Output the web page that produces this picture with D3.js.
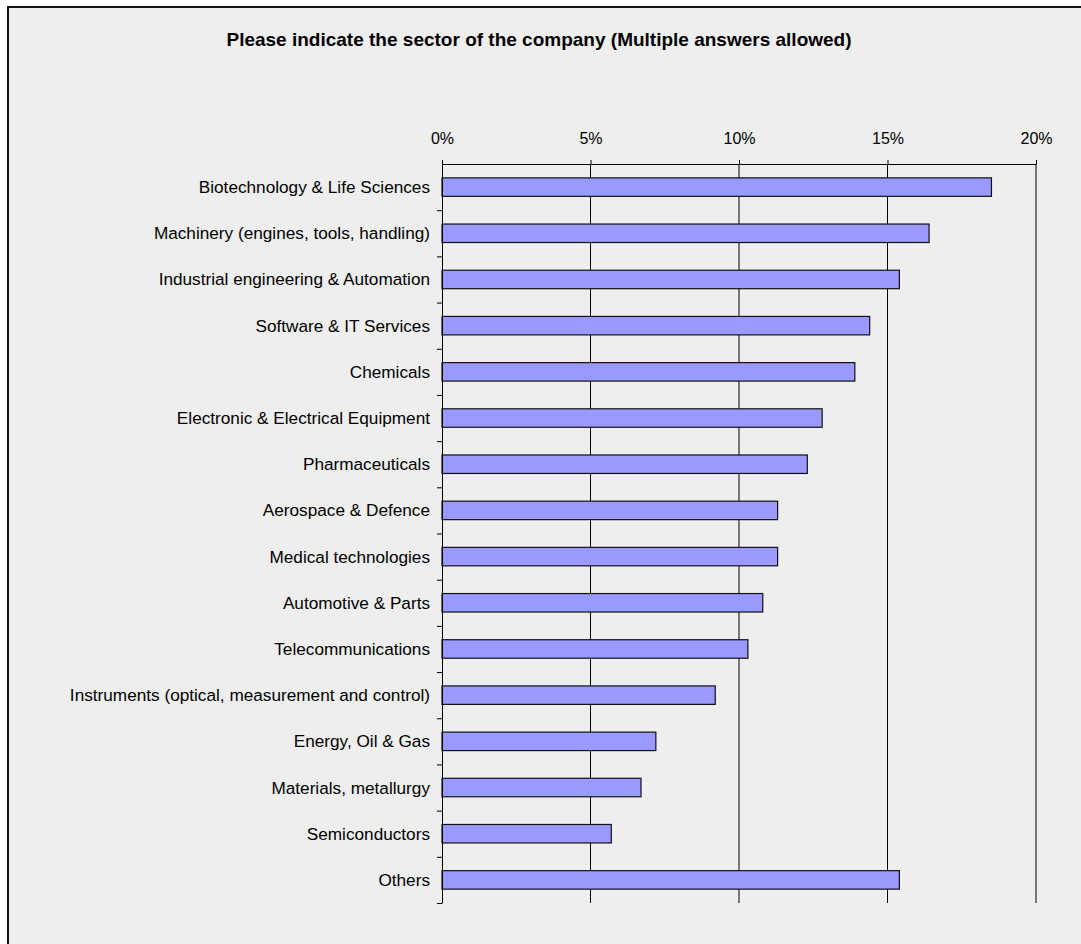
<!DOCTYPE html>
<html>
<head>
<meta charset="utf-8">
<script src="https://cdn.jsdelivr.net/npm/d3@7"></script>
<style>
  body { margin: 0; background: #fff; }
  text { font-family: "Liberation Sans", Arial, sans-serif; fill: #000; }
  .title { font-weight: bold; font-size: 19px; }
  .axis text { font-size: 16px; }
  .axis .cat-label { font-size: 17.2px; }
  .axis path, .axis line { stroke: #000; }
</style>
</head>
<body>
<svg id="chart"></svg>
<script>
// sectors, top to bottom as drawn
const sectors = [
  'Biotechnology & Life Sciences',
  'Machinery (engines, tools, handling)',
  'Industrial engineering & Automation',
  'Software & IT Services',
  'Chemicals',
  'Electronic & Electrical Equipment',
  'Pharmaceuticals',
  'Aerospace & Defence',
  'Medical technologies',
  'Automotive & Parts',
  'Telecommunications',
  'Instruments (optical, measurement and control)',
  'Energy, Oil & Gas',
  'Materials, metallurgy',
  'Semiconductors',
  'Others'
];

// share of answers (fraction)
const shares = [0.185, 0.164, 0.154, 0.144, 0.139, 0.128, 0.123, 0.113,
                0.113, 0.108, 0.103, 0.092, 0.072, 0.067, 0.057, 0.154];

const xTicks = [0, 0.05, 0.10, 0.15, 0.20];

const data = sectors.map((s, i) => ({ sector: s, value: shares[i] }));

const W = 1081, H = 944;
const margin = {top: 164, left: 442};
const width = 594, height = 739;

const svg = d3.select('#chart')
    .attr('width', W)
    .attr('height', H);

// grey panel with dark frame (runs off the right and bottom edge)
svg.append('rect')
    .attr('x', 8)
    .attr('y', 7)
    .attr('width', W + 10)
    .attr('height', H + 10)
    .attr('fill', '#eeeeee')
    .attr('stroke', '#111')
    .attr('stroke-width', 2);

svg.append('text')
    .attr('class', 'title')
    .attr('x', 539)
    .attr('y', 46)
    .attr('text-anchor', 'middle')
    .text('Please indicate the sector of the company (Multiple answers allowed)');

const chart = svg.append('g')
    .attr('transform', `translate(${margin.left},${margin.top})`);

const xScale = d3.scaleLinear()
    .domain([0, 0.20])
    .range([0, width]);

const yScale = d3.scaleBand()
    .domain(sectors)
    .range([0, height])
    .paddingInner(0.6)
    .paddingOuter(0.3);

// boundaries between categories, for the small left ticks
const slotScale = d3.scaleLinear()
    .domain([0, sectors.length])
    .range([0, height]);

// vertical gridlines
chart.selectAll('.grid')
    .data(xTicks.slice(1))
  .join('line')
    .attr('class', 'grid')
    .attr('x1', d => xScale(d))
    .attr('x2', d => xScale(d))
    .attr('y1', 0)
    .attr('y2', height)
    .attr('stroke', '#000')
    .attr('stroke-width', 1);

// bars
chart.selectAll('.bar')
    .data(data)
  .join('rect')
    .attr('class', 'bar')
    .attr('x', xScale(0))
    .attr('y', d => yScale(d.sector))
    .attr('width', d => xScale(d.value))
    .attr('height', yScale.bandwidth())
    .attr('fill', '#9999ff')
    .attr('stroke', '#111')
    .attr('stroke-width', 1.2);

// top axis
const xAxis = d3.axisTop(xScale)
    .tickValues(xTicks)
    .tickFormat(d3.format('.0%'))
    .tickSize(4)
    .tickPadding(16)
    .tickSizeOuter(0);

chart.append('g')
    .attr('class', 'axis x-axis')
    .call(xAxis)
    .selectAll('text').attr('fill', '#000');

// left axis: ticks between categories, labels centred on bars
const yAxisG = chart.append('g')
    .attr('class', 'axis y-axis')
    .call(d3.axisLeft(slotScale)
      .tickValues(d3.range(1, sectors.length + 1))
      .tickFormat('')
      .tickSize(5)
      .tickSizeOuter(0));

yAxisG.selectAll('.cat-label')
    .data(sectors)
  .join('text')
    .attr('class', 'cat-label')
    .attr('x', -12)
    .attr('y', d => yScale(d) + yScale.bandwidth() / 2)
    .attr('dy', '0.35em')
    .attr('text-anchor', 'end')
    .attr('fill', '#000')
    .text(d => d);
</script>
</body>
</html>
